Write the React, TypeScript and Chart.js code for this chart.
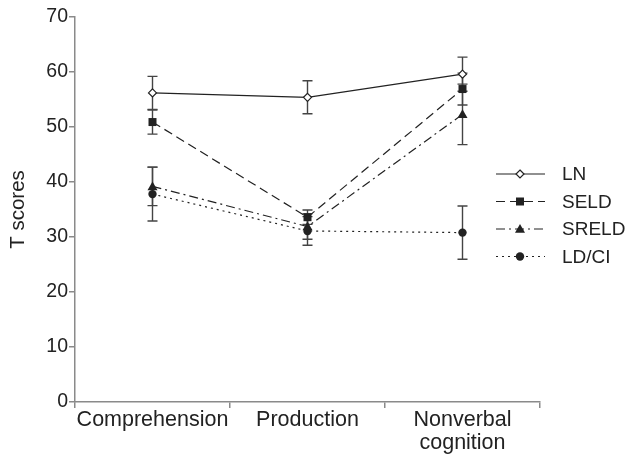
import React, { useEffect, useRef } from "react";
import { Chart, registerables } from "chart.js";

Chart.register(...registerables);

const categories: (string | string[])[] = ["Comprehension", "Production", ["Nonverbal", "cognition"]];
const yTicks = [0, 10, 20, 30, 40, 50, 60, 70];

const seriesNames = ["LN", "SELD", "SRELD", "LD/CI"];
const lnValues = [56.2, 55.4, 59.6];
const lnErrors = [3.0, 3.0, 3.1];
const seldValues = [50.9, 33.6, 56.9];
const seldErrors = [2.2, 1.3, 2.9];
const sreldValues = [39.2, 31.9, 52.3];
const sreldErrors = [3.5, 2.3, 5.5];
const ldciValues = [37.8, 31.1, 30.8];
const ldciErrors = [4.9, 2.6, 4.85];

const FONT = "'Liberation Sans', Arial, Helvetica, sans-serif";
const INK = "#222";
const AXIS = "#8a8a8a";

const styles = [
  { dash: [] as number[], marker: "diamond" },
  { dash: [9, 5], marker: "square" },
  { dash: [9, 4, 2, 4], marker: "triangle" },
  { dash: [2, 4], marker: "circle" },
];

function drawMarker(ctx: CanvasRenderingContext2D, kind: string, x: number, y: number) {
  ctx.save();
  ctx.setLineDash([]);
  ctx.fillStyle = INK;
  ctx.strokeStyle = INK;
  ctx.lineWidth = 1.2;
  ctx.beginPath();
  if (kind === "diamond") {
    const r = 4;
    ctx.moveTo(x, y - r);
    ctx.lineTo(x + r, y);
    ctx.lineTo(x, y + r);
    ctx.lineTo(x - r, y);
    ctx.closePath();
    ctx.fillStyle = "#fff";
    ctx.fill();
    ctx.stroke();
  } else if (kind === "square") {
    const r = 4;
    ctx.rect(x - r, y - r, 2 * r, 2 * r);
    ctx.fill();
  } else if (kind === "triangle") {
    const r = 5;
    ctx.moveTo(x, y - r);
    ctx.lineTo(x + r, y + r * 0.75);
    ctx.lineTo(x - r, y + r * 0.75);
    ctx.closePath();
    ctx.fill();
  } else {
    ctx.arc(x, y, 4.2, 0, Math.PI * 2);
    ctx.fill();
  }
  ctx.restore();
}

const errorSets = [lnErrors, seldErrors, sreldErrors, ldciErrors];

const errorBarPlugin = {
  id: "errorBars",
  beforeDatasetsDraw(chart: any) {
    const ctx = chart.ctx as CanvasRenderingContext2D;
    const yScale = chart.scales.y;
    ctx.save();
    ctx.strokeStyle = "#444";
    ctx.lineWidth = 1.4;
    ctx.setLineDash([]);
    chart.data.datasets.forEach((ds: any, i: number) => {
      const meta = chart.getDatasetMeta(i);
      meta.data.forEach((pt: any, j: number) => {
        const v = ds.data[j];
        const e = errorSets[i][j];
        const x = pt.x;
        const yTop = yScale.getPixelForValue(v + e);
        const yBot = yScale.getPixelForValue(v - e);
        ctx.beginPath();
        ctx.moveTo(x, yTop);
        ctx.lineTo(x, yBot);
        ctx.moveTo(x - 5, yTop);
        ctx.lineTo(x + 5, yTop);
        ctx.moveTo(x - 5, yBot);
        ctx.lineTo(x + 5, yBot);
        ctx.stroke();
      });
    });
    ctx.restore();
  },
  afterDatasetsDraw(chart: any) {
    const ctx = chart.ctx as CanvasRenderingContext2D;
    chart.data.datasets.forEach((ds: any, i: number) => {
      const meta = chart.getDatasetMeta(i);
      meta.data.forEach((pt: any) => drawMarker(ctx, styles[i].marker, pt.x, pt.y));
    });
  },
};

const legendPlugin = {
  id: "customLegend",
  afterDraw(chart: any) {
    const ctx = chart.ctx as CanvasRenderingContext2D;
    const area = chart.chartArea;
    const x0 = area.right - 44;
    const x1 = area.right + 5;
    const xm = area.right - 20;
    const xt = area.right + 22;
    chart.data.datasets.forEach((ds: any, i: number) => {
      const y = area.top + 157 + i * 27.5;
      ctx.save();
      ctx.strokeStyle = INK;
      ctx.lineWidth = 1.2;
      ctx.setLineDash(styles[i].dash);
      ctx.beginPath();
      ctx.moveTo(x0, y);
      ctx.lineTo(x1, y);
      ctx.stroke();
      ctx.restore();
      drawMarker(ctx, styles[i].marker, xm, y);
      ctx.save();
      ctx.fillStyle = INK;
      ctx.font = `19px ${FONT}`;
      ctx.textBaseline = "middle";
      ctx.textAlign = "left";
      ctx.fillText(ds.label, xt, y + 1);
      ctx.restore();
    });
  },
};

export default function App() {
  const ref = useRef<HTMLCanvasElement | null>(null);

  useEffect(() => {
    document.body.style.margin = "0";
    const values = [lnValues, seldValues, sreldValues, ldciValues];
    const chart = new Chart(ref.current as HTMLCanvasElement, {
      type: "line",
      data: {
        labels: categories as any,
        datasets: seriesNames.map((name, i) => ({
          label: name,
          data: values[i],
          borderColor: INK,
          borderWidth: 1.2,
          borderDash: styles[i].dash,
          pointRadius: 0,
          fill: false,
          tension: 0,
        })),
      },
      options: {
        animation: false,
        responsive: false,
        maintainAspectRatio: false,
        layout: { padding: { top: 17, right: 85, left: 0, bottom: 0 } },
        plugins: { legend: { display: false }, tooltip: { enabled: false } },
        scales: {
          x: {
            type: "category",
            offset: true,
            border: { display: true, color: AXIS, width: 1.5 },
            grid: { offset: true, drawOnChartArea: false, drawTicks: true, tickLength: 6, color: AXIS, lineWidth: 1.5 },
            ticks: { color: INK, font: { family: FONT, size: 21.5, lineHeight: 1.05 }, padding: 1, maxRotation: 0, autoSkip: false },
            afterFit: (s: any) => { s.height = 54; },
          },
          y: {
            type: "linear",
            min: 0,
            max: 70,
            afterBuildTicks: (s: any) => { s.ticks = yTicks.map((v) => ({ value: v })); },
            border: { display: true, color: AXIS, width: 1.5 },
            grid: { drawOnChartArea: false, drawTicks: true, tickLength: 6, color: AXIS, lineWidth: 1.5 },
            ticks: { color: INK, font: { family: FONT, size: 19.5 }, padding: 1 },
            title: { display: true, text: "T scores", color: INK, font: { family: FONT, size: 20.5 }, padding: { top: 6, bottom: 4 } },
            afterFit: (s: any) => { s.width = 75; },
          },
        },
      },
      plugins: [errorBarPlugin, legendPlugin],
    } as any);
    return () => chart.destroy();
  }, []);

  return (
    <div style={{ width: 625, height: 456 }}>
      <canvas ref={ref} width={625} height={456} style={{ display: "block" }} />
    </div>
  );
}
